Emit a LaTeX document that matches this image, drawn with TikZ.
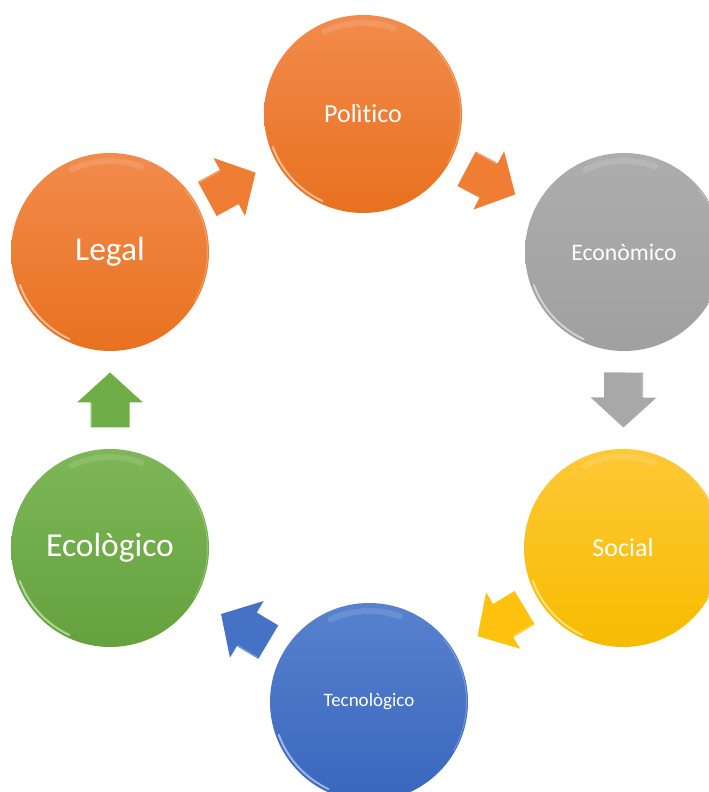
\documentclass[tikz,border=0pt]{standalone}
\usepackage{fontspec}
\setmainfont{Carlito}[Ligatures=NoCommon]
\usetikzlibrary{calc}
\definecolor{orT}{HTML}{F28B4C}
\definecolor{orB}{HTML}{E8711F}
\definecolor{orA}{HTML}{EF7D33}
\definecolor{grT}{HTML}{ADADAD}
\definecolor{grB}{HTML}{A0A0A0}
\definecolor{grA}{HTML}{A8A8A8}
\definecolor{yeT}{HTML}{FFC836}
\definecolor{yeB}{HTML}{F6BC00}
\definecolor{yeA}{HTML}{FFC20E}
\definecolor{blT}{HTML}{5882CE}
\definecolor{blB}{HTML}{3966BE}
\definecolor{blA}{HTML}{4672C6}
\definecolor{gnT}{HTML}{7EB658}
\definecolor{gnB}{HTML}{64A23D}
\definecolor{gnA}{HTML}{6FAD47}
\tikzset{
  x=1pt, y=1pt,
  ball/.style={circle, minimum size=198pt, inner sep=0pt, text=white, font=\fontsize{#1}{#1}\selectfont},
  orball/.style={top color=orT, bottom color=orB},
  grball/.style={top color=grT, bottom color=grB},
  yeball/.style={top color=yeT, bottom color=yeB},
  blball/.style={top color=blT, bottom color=blB},
  gnball/.style={top color=gnT, bottom color=gnB},
  gloss/.style={white, line width=2pt, opacity=0.5, line cap=round},
  glosstop/.style={white, line width=6pt, opacity=0.12, line cap=round},
  blockarr/.pic={
    \fill[pic actions] (-27.5,-19.5) -- (-2.5,-19.5) -- (-2.5,-33) -- (27.5,0)
      -- (-2.5,33) -- (-2.5,19.5) -- (-27.5,19.5) -- cycle;
    \draw[white, opacity=0.3, line width=1pt] (-26.5,18.5) -- (-3.5,18.5) -- (-3.5,31);
  }
}
\newcommand{\glossball}[1]{%
  \draw[gloss] ($(#1.center)+(200:96)$) arc (200:245:96);
  \draw[glosstop] ($(#1.center)+(70:91)$) arc (70:115:91);
  \draw[white, opacity=0.25, line width=1pt] ($(#1.center)+(-30:97.5)$) arc (-30:40:97.5);
}
\newcommand{\connarrow}[4]{%
  \path let \p1=($(#2)-(#1)$), \n1={atan2(\y1,\x1)} in
    pic[fill=#4, rotate=\n1] at ($(#1)!#3!(#2)$) {blockarr};
}
\begin{document}
\begin{tikzpicture}
\useasboundingbox (0,0) rectangle (709,792);
\clip (0,0) rectangle (709,792);
\fill[white] (0,0) rectangle (709,792);

\node[ball=26, orball]   (politico) at (363,678) {Polìtico};
\node[ball=23.7, grball] (economico) at (624,540) {Econòmico};
\node[ball=26, yeball]   (social) at (623,244) {Social};
\node[ball=19, blball]   (tecno) at (369,90) {\raisebox{5pt}{Tecnològico}};
\node[ball=33.5, gnball] (eco) at (110,244) {Ecològico};
\node[ball=33.5, orball] (legal) at (110,540) {\raisebox{-2pt}{Legal}};

\glossball{politico}
\glossball{economico}
\glossball{social}
\glossball{tecno}
\glossball{eco}
\glossball{legal}

\connarrow{legal}{politico}{0.48}{orA}
\connarrow{politico}{economico}{0.49}{orA}
\connarrow{economico}{social}{0.5}{grA}
\connarrow{social}{tecno}{0.48}{yeA}
\connarrow{tecno}{eco}{0.48}{blA}
\connarrow{eco}{legal}{0.5}{gnA}
\end{tikzpicture}
\end{document}
